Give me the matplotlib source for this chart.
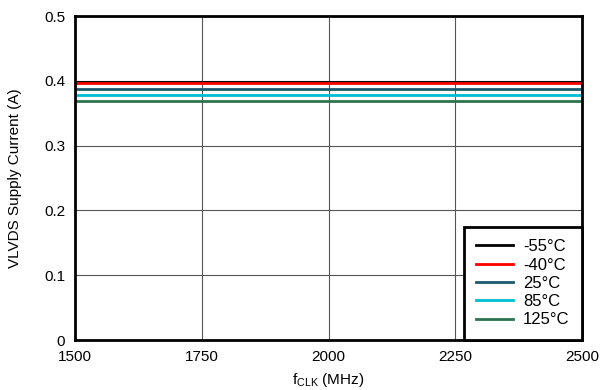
import numpy as np
import matplotlib
matplotlib.use('Agg')
from matplotlib import pyplot as plt

plt.rcParams['font.family'] = ['Liberation Sans', 'DejaVu Sans']
plt.rcParams['font.size'] = 11

fclk = [1500, 1750, 2000, 2250, 2500]
temps = ['-55°C', '-40°C', '25°C', '85°C', '125°C']
current = {
    '-55°C': [0.398, 0.398, 0.398, 0.398, 0.398],
    '-40°C': [0.396, 0.396, 0.396, 0.396, 0.396],
    '25°C': [0.388, 0.388, 0.388, 0.388, 0.388],
    '85°C': [0.378, 0.378, 0.378, 0.378, 0.378],
    '125°C': [0.369, 0.369, 0.369, 0.369, 0.369],
}
colors = ['black', 'red', '#1c5a6b', '#00bcd4', '#2a7550']

fig = plt.figure(figsize=(6.04, 3.9), dpi=100)
ax = fig.add_axes([75/604, 50/390, 507/604, 324/390])

for t, c in zip(temps, colors):
    ax.plot(fclk, current[t], color=c, lw=2, label=t)

ax.set_xlim(1500, 2500)
ax.set_ylim(0, 0.5)
ax.set_xticks([1500, 1750, 2000, 2250, 2500])
ax.set_yticks([0, 0.1, 0.2, 0.3, 0.4, 0.5])
ax.set_yticklabels(['0', '0.1', '0.2', '0.3', '0.4', '0.5'])
ax.grid(True, color='#555555', lw=0.8)
ax.tick_params(length=0, pad=7)
for s in ax.spines.values():
    s.set_linewidth(2)
ax.set_xlabel('f$_{\\mathregular{CLK}}$ (MHz)', labelpad=5)
ax.set_ylabel('VLVDS Supply Current (A)', labelpad=16)

leg = ax.legend(loc='lower right', frameon=True, fancybox=False,
                edgecolor='black', framealpha=1, borderaxespad=0,
                fontsize=12, handlelength=2.2, handletextpad=0.6,
                labelspacing=0.2, borderpad=0.75)
leg.get_frame().set_linewidth(2)

fig.savefig('out.png', dpi=100)
